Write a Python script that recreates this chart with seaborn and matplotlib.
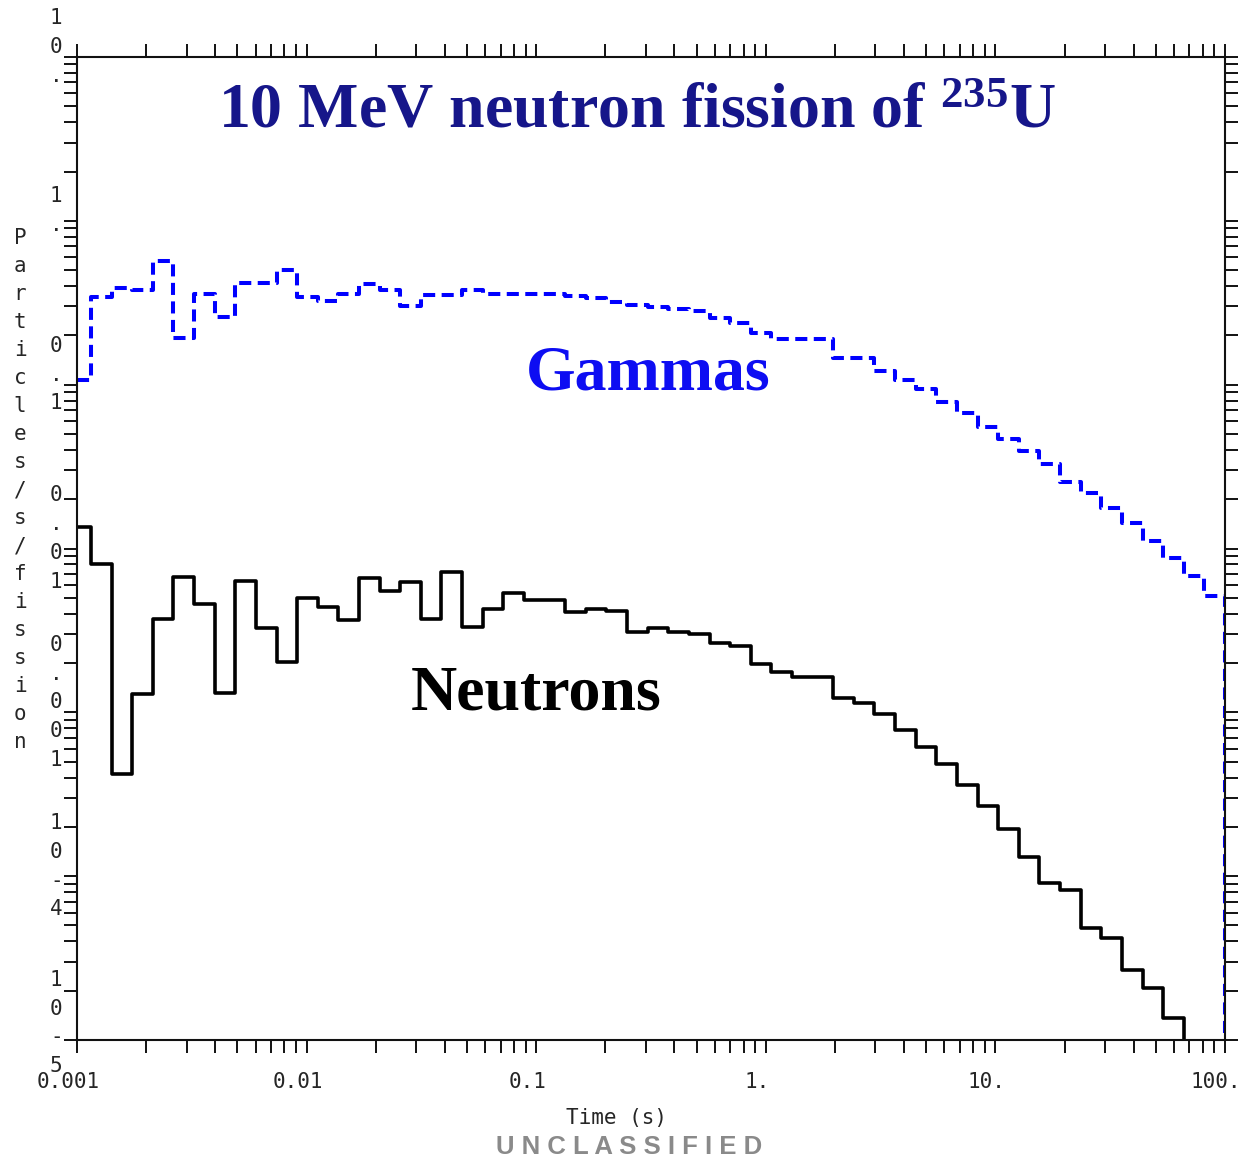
import numpy as np
import pandas as pd
import matplotlib
matplotlib.use("Agg")
import matplotlib.pyplot as plt
from matplotlib.ticker import FixedLocator, LogLocator, NullFormatter
from matplotlib.transforms import ScaledTranslation
import seaborn as sns

# Time binning: a short leading bin from 1 ms, then equal log-width bins to 100 s
t_start = 0.001
t_first_edge = 0.00115
t_end = 100.0
n_log_bins = 55

# Delayed gamma emission rate (particles/s/fission), one value per bin
gamma_rate = [
    0.107, 0.343, 0.389, 0.378, 0.568, 0.193, 0.357, 0.259, 0.417, 0.417,
    0.501, 0.343, 0.324, 0.357, 0.412, 0.378, 0.302, 0.352, 0.352, 0.378,
    0.357, 0.357, 0.357, 0.357, 0.348, 0.338, 0.319, 0.306, 0.298, 0.289,
    0.281, 0.255, 0.238, 0.207, 0.190, 0.190, 0.190, 0.145, 0.145, 0.121,
    0.107, 0.094, 0.0783, 0.0671, 0.0551, 0.0465, 0.0393, 0.0327, 0.0254, 0.0218,
    0.0176, 0.0143, 0.0111, 0.00874, 0.00679, 0.00512,
]

# Delayed neutron emission rate (particles/s/fission), one value per bin
neutron_rate = [
    0.0135, 0.00803, 0.00042, 0.00129, 0.00371, 0.00669, 0.00458, 0.00131, 0.00632, 0.00327,
    0.00203, 0.00498, 0.00439, 0.00366, 0.0066, 0.00549, 0.00623, 0.00371, 0.00718, 0.00331,
    0.00427, 0.00534, 0.00484, 0.00484, 0.00409, 0.00427, 0.00415, 0.00309, 0.00327, 0.00309,
    0.0030, 0.00265, 0.00254, 0.00197, 0.00176, 0.00164, 0.00164, 0.00122, 0.00114, 0.000975,
    0.000778, 0.000613, 0.000483, 0.000359, 0.000268, 0.000194, 0.000131, 0.0000907, 0.0000821, 0.0000482,
    0.0000418, 0.0000267, 0.0000207, 0.0000136, 0.0000060, 0.0000035,
]

floor_level = 1e-7  # histogram outline closes below the axis floor

x_tick_values = [0.001, 0.01, 0.1, 1.0, 10.0, 100.0]
x_tick_labels = ["0.001", "0.01", "0.1", "1.", "10.", "100."]
y_tick_values = [1e-5, 1e-4, 1e-3, 1e-2, 1e-1, 1.0, 10.0]
y_tick_labels = ["10-5", "10-4", "0.001", "0.01", "0.1", "1.", "10."]

edges = np.concatenate([[t_start], np.geomspace(t_first_edge, t_end, n_log_bins + 1)])


def outline(rates):
    x = list(edges) + [t_end]
    y = list(rates) + [rates[-1], floor_level]
    return pd.DataFrame({"time": x, "rate": y})


sns.set_style("ticks")
mono = "DejaVu Sans Mono"
serif = "Liberation Serif"
plt.rcParams["font.family"] = [mono, "DejaVu Sans"]
plt.rcParams["mathtext.fontset"] = "custom"
plt.rcParams["mathtext.rm"] = "Liberation Serif:bold"
plt.rcParams["mathtext.bf"] = "Liberation Serif:bold"

W, H = 1239, 1160
fig = plt.figure(figsize=(W / 100, H / 100), dpi=100)
fig.patch.set_facecolor("white")
ax = fig.add_axes([77 / W, 1 - 1040 / H, 1148 / W, 983 / H])
ax.set_facecolor("white")
ax.set_xscale("log")
ax.set_yscale("log")

sns.lineplot(data=outline(gamma_rate), x="time", y="rate", ax=ax,
             color="#0000ff", linewidth=2.9, linestyle=(0, (3.0, 1.6)),
             drawstyle="steps-post", estimator=None, sort=False)
sns.lineplot(data=outline(neutron_rate), x="time", y="rate", ax=ax,
             color="black", linewidth=2.6, linestyle="-",
             drawstyle="steps-post", estimator=None, sort=False)

ax.set_xlim(1e-3, 100)
ax.set_ylim(1e-5, 10)

for axis, vals in ((ax.xaxis, x_tick_values), (ax.yaxis, y_tick_values)):
    axis.set_major_locator(FixedLocator(vals))
    axis.set_minor_locator(LogLocator(base=10, subs=np.arange(2, 10), numticks=100))
    axis.set_minor_formatter(NullFormatter())

ax.set_xticklabels(x_tick_labels, fontsize=15, family=mono)
ax.set_yticklabels(["\n".join(s) for s in y_tick_labels], fontsize=15, family=mono,
                   linespacing=1.55, va="center", multialignment="center")

ax.tick_params(which="both", direction="out", length=9.4, width=1.4, color="#111111",
               top=True, right=True, labeltop=False, labelright=False)
ax.tick_params(axis="x", pad=14)
ax.tick_params(axis="y", pad=1)
for sp in ax.spines.values():
    sp.set_linewidth(1.5)
    sp.set_color("#111111")

# nudge tick labels the way the old plotting package placed them
shift_x = ScaledTranslation(-9 / 100, 0, fig.dpi_scale_trans)
for lab in ax.get_xticklabels():
    lab.set_transform(lab.get_transform() + shift_x)
y_label_lift = [17, 10, 10, 10, 10, 10, 10]
for lab, lift in zip(ax.get_yticklabels(), y_label_lift):
    lab.set_transform(lab.get_transform() + ScaledTranslation(0, lift / 100, fig.dpi_scale_trans))

ax.set_xlabel("Time (s)", fontsize=15, family=mono)
ax.xaxis.set_label_coords(0.470, -0.069)
ax.set_ylabel("")

fig.text(20 / W, 1 - 490 / H, "\n".join("Particles/s/fission"), ha="center", va="center",
         fontsize=15, family=mono, linespacing=1.5)

fig.text(637 / W, 1 - 127 / H, r"10 MeV neutron fission of $\mathregular{^{235}}$U",
         ha="center", va="baseline", fontsize=46, family=serif, fontweight="bold",
         color="#16168a")
fig.text(648 / W, 1 - 389 / H, "Gammas", ha="center", va="baseline", fontsize=46,
         family=serif, fontweight="bold", color="#0d0df2")
fig.text(536 / W, 1 - 710 / H, "Neutrons", ha="center", va="baseline", fontsize=46,
         family=serif, fontweight="bold", color="black")

fig.text(629 / W, 1 - 1147 / H, " ".join("UNCLASSIFIED"), ha="center", va="center",
         fontsize=18.5, family="Liberation Sans", fontweight="bold", color="#8a8a8a")

fig.savefig("out.png", dpi=100, facecolor="white")
